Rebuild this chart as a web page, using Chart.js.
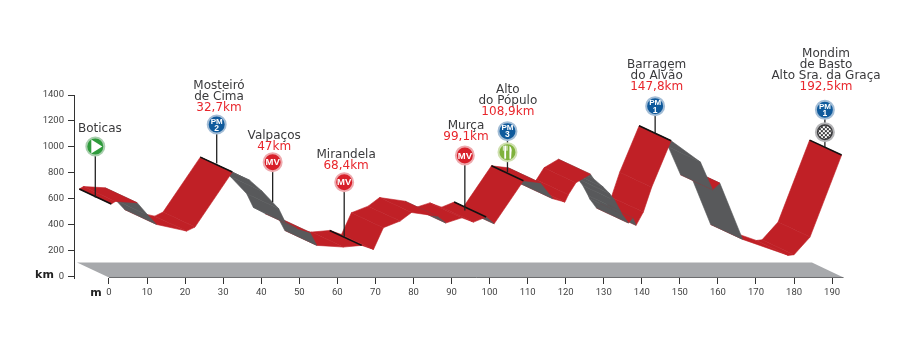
<!DOCTYPE html>
<html>
<head>
<meta charset="utf-8">
<title>Perfil</title>
<script src="https://cdn.jsdelivr.net/npm/chart.js@4/dist/chart.umd.min.js"></script>
<style>
    html, body { margin: 0; padding: 0; background: #fff; }
    canvas { display: block; }
</style>
</head>
<body>
<canvas id="profileChart" width="917" height="355"></canvas>
<script>
var routeKm = [0.6, 1.7, 7.4, 10.3, 12.5, 20.4, 22.6, 32.4, 37.0, 40.3, 44.6, 46.3, 49.4, 52.8, 54.6, 61.6, 66.4,
    69.5, 72.1, 76.5, 79.5, 86.2, 88.5, 92.7, 95.8, 99.1, 101.2, 108.9, 113.3, 116.6, 119.8, 120.7, 122.7, 126.5,
    127.3, 129.9, 131.6, 132.9, 134.3, 134.7, 136.5, 137.6, 138.5, 140.4, 142.6, 147.7, 155.4, 158.6, 160.5, 166.5,
    178.5, 180.0, 184.2, 192.5];
var routeElev = [676, 696, 686, 588, 519, 468, 499, 922, 858, 773, 640, 537, 488, 458, 358, 345, 358,
    327, 494, 545, 611, 583, 530, 570, 537, 576, 524, 855, 840, 717, 691, 747, 840, 906,
    871, 806, 755, 704, 627, 601, 530, 571, 512, 614, 806, 1163, 999, 786, 837, 404,
    281, 286, 422, 1053];

// the ribbon's front edge sits this far from the back edge
var depthKm = 8.41;
var depthElev = 115;

var xTicks = [0, 10, 20, 30, 40, 50, 60, 70, 80, 90, 100, 110, 120, 130, 140, 150, 160, 170, 180, 190];
var yTicks = [0, 200, 400, 600, 800, 1000, 1200, 1400];

var groundKm = [-8.4, 0, 193, 184.7];
var groundElev = [111, -4, -4, 111];

// indexes into routeKm of the black cross lines
var crossIdx = [0, 7, 16, 25, 27, 45, 53];

// places
var placeNames = [['Boticas'], ['Mosteiró', 'de Cima'], ['Valpaços'], ['Mirandela'], ['Murça'], ['Alto', 'do Pópulo'],
    ['Barragem', 'do Alvão'], ['Mondim', 'de Basto', 'Alto Sra. da Graça']];
var placeDist = ['', '32,7km', '47km', '68,4km', '99,1km', '108,9km', '147,8km', '192,5km'];
var placeKm = [-2.4, 28.9, 43.4, 62.3, 93.8, 104.8, 143.9, 188.4];
var placeElev = [1142, 1298, 1004, 858, 1075, 1268, 1465, 1460];

var poleKm = [-3.6, 28.3, 43, 61.8, 93.5, 104.7, 143.5, 188.1];
var poleBase = [612, 873, 575, 306, 512, 806, 1102, 998];
var poleTop = [1004, 1173, 883, 729, 935, 1122, 1314, 1286];

var badgeKm = [-3.6, 28.3, 43, 61.8, 93.5, 104.7, 104.7, 143.5, 188.1, 188.1];
var badgeElev = [1004, 1173, 883, 729, 935, 1122, 960, 1314, 1286, 1114];
var badgeKind = ['start', 'pm', 'mv', 'mv', 'mv', 'pm', 'food', 'pm', 'pm', 'finish'];
var badgeCat = ['', '2', '', '', '', '3', '', '1', '1', ''];

var RED = '#c02026';
var GRAY = '#58595b';
var kindFill = { start: '#2f9b3c', pm: '#0f5a9c', mv: '#d8202a', food: '#7fb23c', finish: '#3b3b3d' };
var kindRing = { start: '#a9cfae', pm: '#a3bdd6', mv: '#eeaaae', food: '#cfe0b0', finish: '#b5b5b7' };

var datasets = [];

datasets.push({
    data: groundKm.map(function (k, i) { return { x: k, y: groundElev[i] }; }),
    showLine: true, fill: 'shape', backgroundColor: '#a7a9ac', borderColor: '#a7a9ac', borderWidth: 0,
    pointRadius: 0, order: 1000
});

// thin dark line along the front of the ground
datasets.push({
    data: [{ x: groundKm[1], y: groundElev[1] }, { x: groundKm[2], y: groundElev[2] }],
    showLine: true, borderColor: '#6a6b6d', borderWidth: 1, pointRadius: 0, order: 999
});

for (var i = 0; i < routeKm.length - 1; i++) {
    var dropRate = (routeElev[i] - routeElev[i + 1]) / (routeKm[i + 1] - routeKm[i]);
    var color = dropRate > depthElev / depthKm ? GRAY : RED;
    datasets.push({
        data: [
            { x: routeKm[i] - depthKm, y: routeElev[i] },
            { x: routeKm[i + 1] - depthKm, y: routeElev[i + 1] },
            { x: routeKm[i + 1], y: routeElev[i + 1] - depthElev },
            { x: routeKm[i], y: routeElev[i] - depthElev },
            { x: routeKm[i] - depthKm, y: routeElev[i] }
        ],
        showLine: true, fill: 'shape', backgroundColor: color, borderColor: color, borderWidth: 0.6,
        pointRadius: 0, order: 100 + i   // earlier stretches sit on top
    });
}

crossIdx.forEach(function (c) {
    datasets.push({
        data: [{ x: routeKm[c] - depthKm, y: routeElev[c] }, { x: routeKm[c], y: routeElev[c] - depthElev }],
        showLine: true, borderColor: '#111', borderWidth: 1.6, pointRadius: 0, order: 20
    });
});

poleKm.forEach(function (k, i) {
    datasets.push({
        data: [{ x: k, y: poleBase[i] }, { x: k, y: poleTop[i] }],
        showLine: true, borderColor: '#222', borderWidth: 1.3, pointRadius: 0, order: 15
    });
});

datasets.push({
    data: badgeKm.map(function (k, i) { return { x: k, y: badgeElev[i] }; }),
    showLine: false,
    pointStyle: 'circle',
    pointRadius: 9,
    pointBorderWidth: 2,
    pointBackgroundColor: badgeKind.map(function (k) { return kindFill[k]; }),
    pointBorderColor: badgeKind.map(function (k) { return kindRing[k]; }),
    order: 10
});

// texts and the little icons on the badges
var profileLabels = {
    id: 'profileLabels',
    afterDatasetsDraw: function (chart) {
        var ctx = chart.ctx;
        var x = chart.scales.x;
        var y = chart.scales.y;
        ctx.save();
        ctx.textAlign = 'center';
        ctx.textBaseline = 'middle';

        placeNames.forEach(function (lines, i) {
            var px = x.getPixelForValue(placeKm[i]);
            var py = y.getPixelForValue(placeElev[i]);
            var all = lines.slice();
            if (placeDist[i]) all.push(placeDist[i]);
            all.forEach(function (txt, n) {
                var isDist = placeDist[i] && n === all.length - 1;
                ctx.font = '12px "DejaVu Sans"';
                ctx.fillStyle = isDist ? '#e8262c' : '#3a3a3c';
                ctx.fillText(txt, px, py - (all.length - 1 - n) * 11);
            });
        });

        badgeKm.forEach(function (k, i) {
            var px = x.getPixelForValue(k);
            var py = y.getPixelForValue(badgeElev[i]);
            var kind = badgeKind[i];
            ctx.fillStyle = '#fff';
            if (kind === 'mv') {
                ctx.font = 'bold 9.5px "Liberation Sans"';
                ctx.fillText('MV', px, py + 0.5);
            } else if (kind === 'pm') {
                ctx.font = 'bold 8px "Liberation Sans"';
                ctx.fillText('PM', px, py - 3);
                ctx.font = 'bold 8.5px "Liberation Sans"';
                ctx.fillText(badgeCat[i], px, py + 4);
            } else if (kind === 'start') {
                ctx.beginPath();
                ctx.moveTo(px - 4, py - 7);
                ctx.lineTo(px + 7, py);
                ctx.lineTo(px - 4, py + 7);
                ctx.closePath();
                ctx.fill();
            } else if (kind === 'food') {
                ctx.fillRect(px - 3.2, py - 6.5, 1.8, 13);
                ctx.fillRect(px - 4.6, py - 6.5, 0.8, 5);
                ctx.fillRect(px - 2, py - 6.5, 0.8, 5);
                ctx.fillRect(px - 0.8, py - 6.5, 0.8, 5);
                ctx.beginPath();
                ctx.moveTo(px + 2, py + 6.5);
                ctx.lineTo(px + 2, py - 6.5);
                ctx.quadraticCurveTo(px + 5, py - 4, px + 4, py);
                ctx.lineTo(px + 3.6, py + 6.5);
                ctx.closePath();
                ctx.fill();
            } else if (kind === 'finish') {
                ctx.save();
                ctx.beginPath();
                ctx.arc(px, py, 6.5, 0, Math.PI * 2);
                ctx.clip();
                for (var r = -4; r < 4; r++) {
                    for (var c = -4; c < 4; c++) {
                        if ((r + c) % 2 === 0) ctx.fillRect(px + c * 2, py + r * 2, 2, 2);
                    }
                }
                ctx.restore();
            }
        });

        // axis units
        ctx.fillStyle = '#222';
        ctx.font = 'bold 11px "DejaVu Sans"';
        ctx.fillText('km', 44.5, y.getPixelForValue(0) - 2);
        ctx.fillText('m', x.getPixelForValue(0) - 13, x.top + 15);
        ctx.restore();
    }
};

new Chart(document.getElementById('profileChart').getContext('2d'), {
    type: 'scatter',
    data: { datasets: datasets },
    plugins: [profileLabels],
    options: {
        responsive: false,
        animation: false,
        layout: { padding: { top: 95, right: 67, bottom: 37, left: 0 } },
        plugins: { legend: { display: false }, tooltip: { enabled: false } },
        scales: {
            x: {
                type: 'linear',
                min: -9.196,
                max: 194.7,
                afterBuildTicks: function (axis) {
                    axis.ticks = xTicks.map(function (v) { return { value: v }; });
                },
                afterFit: function (axis) { axis.height = 40; },
                border: { display: false },
                grid: { drawOnChartArea: false, drawTicks: true, tickLength: 6, color: '#333', lineWidth: 1 },
                ticks: {
                    padding: 3, maxRotation: 0, autoSkip: false, color: '#444',
                    font: { family: 'Roboto', size: 9.5 }
                }
            },
            y: {
                type: 'linear',
                min: -8,
                max: 1400,
                afterBuildTicks: function (axis) {
                    axis.ticks = yTicks.map(function (v) { return { value: v }; });
                },
                afterFit: function (axis) { axis.width = 74; },
                border: { display: true, color: '#333', width: 1 },
                grid: { drawOnChartArea: false, drawTicks: true, tickLength: 6, color: '#333', lineWidth: 1 },
                ticks: {
                    padding: 4, color: '#444',
                    font: { family: 'Roboto', size: 9.5 },
                    callback: function (v) { return v; }
                }
            }
        }
    }
});
</script>
</body>
</html>
